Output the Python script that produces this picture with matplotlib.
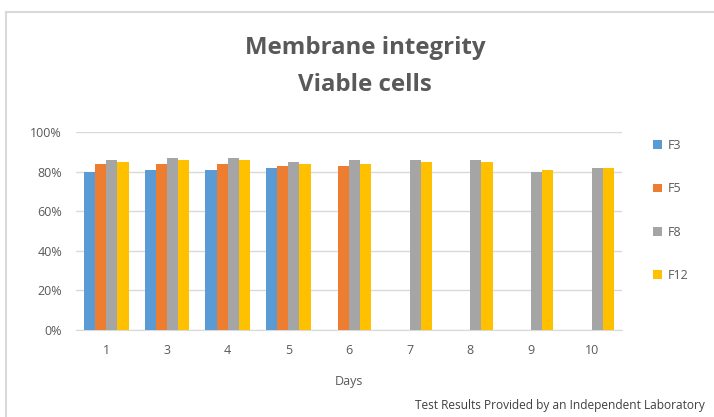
import matplotlib
matplotlib.use("Agg")
import matplotlib.pyplot as plt
import numpy as np
from matplotlib.lines import Line2D

# Data (percent); NaN = no bar
days = ["1", "3", "4", "5", "6", "7", "8", "9", "10"]
f3 = [80, 81, 81, 82, np.nan, np.nan, np.nan, np.nan, np.nan]
f5 = [84, 84, 84, 83, 83, np.nan, np.nan, np.nan, np.nan]
f8 = [86, 87, 87, 85, 86, 86, 86, 80, 82]
f12 = [85, 86, 86, 84, 84, 85, 85, 81, 82]
series = ["F3", "F5", "F8", "F12"]
colors = ["#5B9BD5", "#ED7D31", "#A5A5A5", "#FFC000"]

plt.rcParams['font.family'] = ['Open Sans', 'DejaVu Sans']

W, H = 714, 417
fig = plt.figure(figsize=(W / 100, H / 100), dpi=100)
ax = fig.add_axes([76 / W, 1 - 330 / H, 546 / W, 198 / H])

x = np.arange(len(days))
bw = 0.183
for i, (vals, c) in enumerate(zip([f3, f5, f8, f12], colors)):
    ax.bar(x + (i - 1.5) * bw, vals, width=bw, color=c, label=series[i], zorder=3)

ax.set_xlim(-0.5, len(days) - 0.5)
ax.set_ylim(0, 100)
ax.set_yticks(range(0, 101, 20))
ax.set_yticklabels([f"{v}%" for v in range(0, 101, 20)])
ax.set_xticks(x)
ax.set_xticklabels(days)
ax.grid(axis='y', color='#D9D9D9', linewidth=1, zorder=0)
for s in ['top', 'right', 'left']:
    ax.spines[s].set_visible(False)
ax.spines['bottom'].set_color('#D9D9D9')
ax.tick_params(axis='both', length=0, labelsize=9, colors='#595959')
ax.tick_params(axis='x', pad=10)
ax.tick_params(axis='y', pad=10)
ax.set_xlabel("Days", fontsize=9, color='#595959', labelpad=13)

fig.text(365 / W, 1 - 66.5 / H, "Membrane integrity\nViable cells", ha='center', va='center',
         fontsize=17.3, fontweight='bold', color='#595959', linespacing=1.75)

leg = fig.legend(loc='upper left', bbox_to_anchor=(648 / W, 1 - 134 / H), frameon=False,
                 fontsize=9, labelspacing=2.42, handlelength=0.7, handleheight=0.7,
                 handletextpad=0.5, borderaxespad=0)
for t in leg.get_texts():
    t.set_color('#595959')

fig.text(705 / W, 1 - 405 / H, "Test Results Provided by an Independent Laboratory",
         ha='right', va='center', fontsize=8.6, color='#404040')

# chart-area border (top and left edges visible)
fig.add_artist(Line2D([6 / W, 6 / W], [0, 1 - 12 / H], transform=fig.transFigure,
                      color='#D9D9D9', linewidth=1.5))
fig.add_artist(Line2D([6 / W, 1], [1 - 12 / H, 1 - 12 / H], transform=fig.transFigure,
                      color='#D9D9D9', linewidth=1.5))

fig.savefig("out.png", dpi=100)
